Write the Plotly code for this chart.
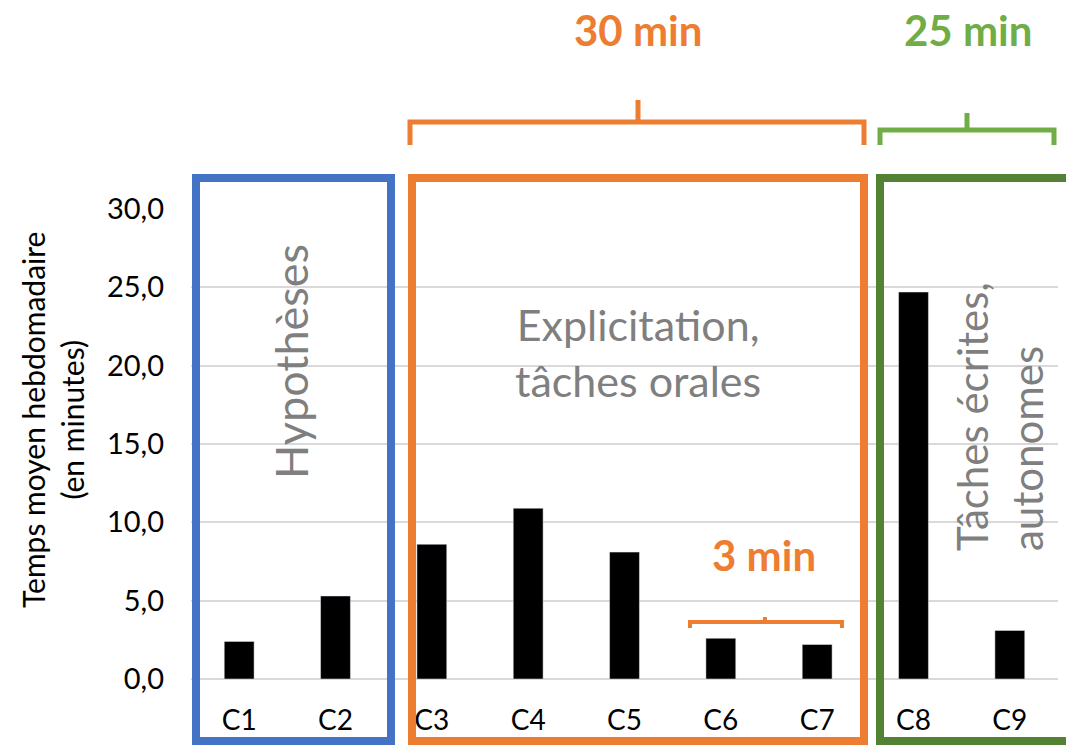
import plotly.graph_objects as go

categories = ["C1", "C2", "C3", "C4", "C5", "C6", "C7", "C8", "C9"]
values = [2.4, 5.3, 8.6, 10.9, 8.1, 2.6, 2.2, 24.7, 3.1]
y_ticks = [0, 5, 10, 15, 20, 25, 30]

W, H = 1066, 746
L, R, T, B = 191, 8, 209, 67
PW, PH = W - L - R, H - T - B

def px(x):
    return (x - L) / PW

def py(y):
    return (H - B - y) / PH

FONT = "Lato"
BLUE = "#4472C4"
ORANGE = "#ED7D31"
DGREEN = "#548235"
LGREEN = "#70AD47"
GRAY = "#7F7F7F"

fig = go.Figure(go.Bar(x=categories, y=values, marker_color="black", width=0.31))

shapes = []
def rect(x0, y0, x1, y1, color, w=8):
    shapes.append(dict(type="rect", xref="paper", yref="paper",
                       x0=px(x0), x1=px(x1), y0=py(y1), y1=py(y0),
                       line=dict(color=color, width=w), fillcolor="rgba(0,0,0,0)"))

rect(196, 178, 391, 741, BLUE)
rect(412, 178, 864, 741, ORANGE)
rect(880, 178, 1080, 741, DGREEN)

def bracket(x0, x1, xm, yl, ye, yp, color, w):
    path = (f"M {px(x0)},{py(ye)} L {px(x0)},{py(yl)} L {px(x1)},{py(yl)} L {px(x1)},{py(ye)} "
            f"M {px(xm)},{py(yl)} L {px(xm)},{py(yp)}")
    shapes.append(dict(type="path", xref="paper", yref="paper", path=path,
                       line=dict(color=color, width=w)))

bracket(410, 864, 638, 122, 145, 100, ORANGE, 5)
bracket(880, 1054, 967, 130, 145, 113, LGREEN, 5)
bracket(690, 842, 765, 622, 628, 617, ORANGE, 4)

ann = []
def text(x, y, s, size, color, bold=False, angle=0, align="center"):
    if bold:
        s = f"<b>{s}</b>"
    ann.append(dict(xref="paper", yref="paper", x=px(x), y=py(y), text=s, showarrow=False,
                    font=dict(family=FONT, size=size, color=color), textangle=angle,
                    align=align, xanchor="center", yanchor="middle"))

text(52, 420, "Temps moyen hebdomadaire<br>(en minutes)", 30, "black", angle=-90)
text(291, 362, "Hypothèses", 45, GRAY, angle=-90)
text(638, 352, "Explicitation,<br>tâches orales", 43, GRAY)
text(999, 417, "Tâches écrites,<br>autonomes", 42, GRAY, angle=-90, align="left")
text(638, 30, "30 min", 42, ORANGE, bold=True)
text(968, 30, "25 min", 42, LGREEN, bold=True)
text(764, 555, "3 min", 42, ORANGE, bold=True)

fig.update_layout(
    width=W, height=H,
    margin=dict(l=L, r=R, t=T, b=B, pad=0),
    paper_bgcolor="white", plot_bgcolor="white",
    separators=",.",
    showlegend=False,
    font=dict(family=FONT, color="black"),
    shapes=shapes, annotations=ann,
    xaxis=dict(range=[-0.5, 8.5], showgrid=False, showline=False, zeroline=False,
               tickfont=dict(size=28, family=FONT, color="black"), ticks="",
               ticklabelstandoff=22),
    yaxis=dict(range=[0, 30], tickvals=y_ticks, tickformat=".1f", showgrid=True,
               gridcolor="#D9D9D9", gridwidth=1.5, zeroline=True, zerolinecolor="#D9D9D9",
               zerolinewidth=1.5, showline=False, ticks="",
               tickfont=dict(size=29, family=FONT, color="black"), ticklabelstandoff=26),
)

fig.write_html("out.html", config={"displayModeBar": False},
               post_script="document.body.style.margin='0';")
